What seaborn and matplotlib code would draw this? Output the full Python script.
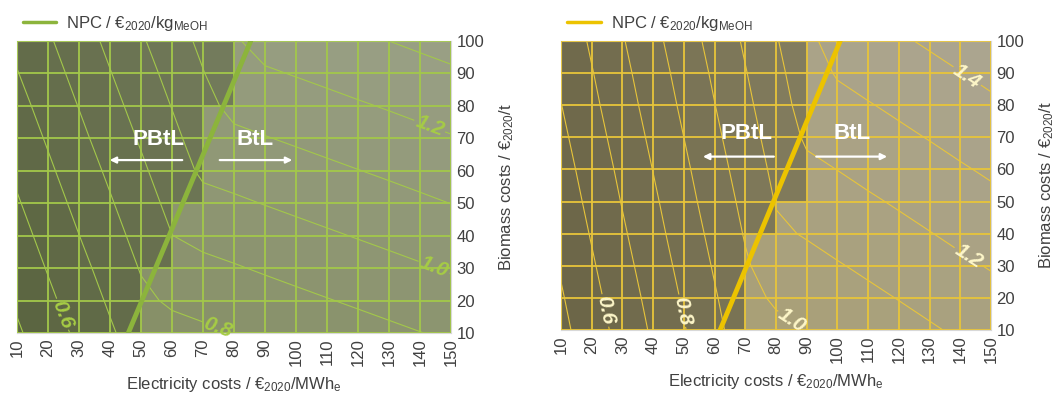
import numpy as np
import matplotlib
matplotlib.use("Agg")
import matplotlib.pyplot as plt
from matplotlib.lines import Line2D
from matplotlib.colors import to_rgb
import seaborn as sns

electricity_costs = [10, 20, 30, 40, 50, 60, 70, 80, 90, 100, 110, 120, 130, 140, 150]
biomass_costs = [10, 20, 30, 40, 50, 60, 70, 80, 90, 100]

# net production costs (€2020/kg MeOH), rows = biomass cost, columns = electricity cost
npc_green = [
    [0.487, 0.553, 0.620, 0.687, 0.752, 0.768, 0.784, 0.800, 0.817, 0.833, 0.849, 0.866, 0.882, 0.898, 0.915],
    [0.513, 0.580, 0.646, 0.713, 0.780, 0.814, 0.831, 0.847, 0.863, 0.880, 0.896, 0.912, 0.928, 0.945, 0.961],
    [0.539, 0.606, 0.672, 0.739, 0.806, 0.861, 0.877, 0.893, 0.910, 0.926, 0.942, 0.959, 0.975, 0.991, 1.008],
    [0.565, 0.632, 0.699, 0.765, 0.832, 0.899, 0.924, 0.940, 0.956, 0.973, 0.989, 1.005, 1.021, 1.038, 1.054],
    [0.591, 0.658, 0.725, 0.791, 0.858, 0.925, 0.970, 0.986, 1.003, 1.019, 1.035, 1.052, 1.068, 1.084, 1.101],
    [0.617, 0.684, 0.751, 0.817, 0.884, 0.951, 1.017, 1.033, 1.049, 1.066, 1.082, 1.098, 1.114, 1.131, 1.147],
    [0.643, 0.710, 0.777, 0.844, 0.910, 0.977, 1.044, 1.079, 1.096, 1.112, 1.128, 1.145, 1.161, 1.177, 1.194],
    [0.669, 0.736, 0.803, 0.870, 0.936, 1.003, 1.070, 1.126, 1.142, 1.159, 1.175, 1.191, 1.207, 1.224, 1.240],
    [0.696, 0.762, 0.829, 0.896, 0.962, 1.029, 1.096, 1.163, 1.189, 1.205, 1.221, 1.238, 1.254, 1.270, 1.287],
    [0.722, 0.788, 0.855, 0.922, 0.989, 1.055, 1.122, 1.189, 1.235, 1.252, 1.268, 1.284, 1.300, 1.317, 1.333],
]
npc_yellow = [
    [0.474, 0.554, 0.634, 0.714, 0.794, 0.874, 0.954, 0.978, 1.000, 1.023, 1.045, 1.068, 1.090, 1.113, 1.135],
    [0.491, 0.571, 0.651, 0.731, 0.811, 0.891, 0.971, 1.013, 1.036, 1.058, 1.081, 1.103, 1.126, 1.148, 1.171],
    [0.509, 0.589, 0.669, 0.749, 0.829, 0.909, 0.989, 1.049, 1.071, 1.094, 1.116, 1.139, 1.161, 1.184, 1.206],
    [0.527, 0.607, 0.687, 0.767, 0.847, 0.927, 1.007, 1.085, 1.107, 1.130, 1.152, 1.175, 1.197, 1.220, 1.242],
    [0.544, 0.625, 0.705, 0.784, 0.865, 0.945, 1.024, 1.105, 1.143, 1.165, 1.188, 1.210, 1.233, 1.255, 1.278],
    [0.562, 0.642, 0.722, 0.802, 0.882, 0.962, 1.042, 1.122, 1.179, 1.201, 1.224, 1.246, 1.268, 1.291, 1.313],
    [0.580, 0.660, 0.740, 0.820, 0.900, 0.980, 1.060, 1.140, 1.214, 1.237, 1.259, 1.282, 1.304, 1.327, 1.349],
    [0.598, 0.678, 0.758, 0.838, 0.918, 0.998, 1.078, 1.158, 1.238, 1.272, 1.295, 1.317, 1.340, 1.362, 1.385],
    [0.615, 0.695, 0.775, 0.855, 0.935, 1.015, 1.095, 1.175, 1.255, 1.308, 1.331, 1.353, 1.376, 1.398, 1.421],
    [0.633, 0.713, 0.793, 0.873, 0.953, 1.033, 1.113, 1.193, 1.273, 1.344, 1.366, 1.389, 1.411, 1.434, 1.456],
]

# electricity cost up to which the PBtL route is cheaper, per biomass band
pbtl_limit_green = [50, 50, 60, 60, 70, 70, 70, 80, 80]
pbtl_limit_yellow = [70, 70, 70, 80, 90, 90, 90, 90, 90]

# PBtL / BtL break-even line
boundary_bio = [10, 100]
boundary_elec_green = [45.9, 85.4]
boundary_elec_yellow = [61.8, 100.9]

labelled_green = [0.6, 0.8, 1.0, 1.2]
plain_green = [0.5, 0.7, 0.9, 1.1, 1.3]
labelled_yellow = [0.6, 0.8, 1.0, 1.2, 1.4]
plain_yellow = [0.5, 0.7, 0.9, 1.1, 1.3, 1.5]

sns.set_style("white")
plt.rcParams["font.family"] = ["Liberation Sans", "DejaVu Sans"]
plt.rcParams["mathtext.fontset"] = "custom"
plt.rcParams["mathtext.rm"] = "Liberation Sans"
plt.rcParams["mathtext.it"] = "Liberation Sans:italic"

panels = [
    dict(npc=npc_green, limit=pbtl_limit_green, bound=boundary_elec_green,
         labelled=labelled_green, plain=plain_green,
         line="#a3c84a", thick="#8cb43c", label="#a6cc45",
         p_lo="#59633f", p_hi="#7b8264", b_lo="#7d8858", b_hi="#9aa086",
         pos=[17/1059, 1-333/401, 434/1059, 292/401],
         manual=[(28, 17), (76, 15), (146, 34), (144, 76)],
         texts=[(55.5, 69.5), (86.8, 69.5)], arrows=[(64.2, 39, 63.3), (74.5, 99.7, 63.3)]),
    dict(npc=npc_yellow, limit=pbtl_limit_yellow, bound=boundary_elec_yellow,
         labelled=labelled_yellow, plain=plain_yellow,
         line="#e8c53a", thick="#ecc300", label="#fdf6c8",
         p_lo="#6a6446", p_hi="#8a8465", b_lo="#a69a5c", b_hi="#aba591",
         pos=[561/1059, 1-330/401, 430/1059, 289/401],
         manual=[(26.5, 16.5), (52, 16.5), (88, 17), (145.4, 37), (145.4, 93.6)],
         texts=[(70.5, 71.3), (104.7, 71.3)], arrows=[(80.2, 55.3, 64), (92.2, 117.1, 64)]),
]

fig = plt.figure(figsize=(10.59, 4.01), dpi=100)
ex = np.array(electricity_costs)
by = np.array(biomass_costs)
for st in panels:
    ax = fig.add_axes(st["pos"])
    z = np.array(st["npc"])

    # cell shading: route colour, lightened with the mean cost of the cell
    cell = (z[:-1, :-1] + z[1:, :-1] + z[:-1, 1:] + z[1:, 1:]) / 4
    centers = (ex[:-1] + ex[1:]) / 2
    lo, hi = z.min(), z.max()
    rgb = np.zeros(cell.shape + (3,))
    for r in range(cell.shape[0]):
        for c in range(cell.shape[1]):
            t = (cell[r, c] - lo) / (hi - lo)
            if centers[c] < st["limit"][r]:
                a, b = np.array(to_rgb(st["p_lo"])), np.array(to_rgb(st["p_hi"]))
            else:
                a, b = np.array(to_rgb(st["b_lo"])), np.array(to_rgb(st["b_hi"]))
            rgb[r, c] = a + (b - a) * t
    ax.pcolormesh(ex, by, rgb, shading="flat", zorder=0)

    ax.set_xlim(10, 150)
    ax.set_ylim(10, 100)
    ax.set_xticks(electricity_costs)
    ax.set_yticks(biomass_costs)
    ax.grid(True, color=st["line"], lw=1.3, zorder=1)
    ax.set_axisbelow(False)

    ax.contour(ex, by, z, levels=st["plain"], colors=st["line"], linewidths=0.8, zorder=2)
    cs = ax.contour(ex, by, z, levels=st["labelled"], colors=st["line"], linewidths=0.8, zorder=2)
    lbls = ax.clabel(cs, manual=st["manual"], inline=True, inline_spacing=2, fmt="%.1f",
                     fontsize=15, colors=st["label"])
    for t in lbls:
        t.set_fontstyle("italic")
        t.set_fontweight("bold")
        t.set_clip_on(False)

    sns.lineplot(x=st["bound"], y=boundary_bio, ax=ax, color=st["thick"], lw=3.5,
                 sort=False, estimator=None, legend=False, zorder=3)

    ax.text(*st["texts"][0], "PBtL", color="white", fontsize=16, fontweight="bold",
            ha="center", va="center", zorder=4)
    ax.text(*st["texts"][1], "BtL", color="white", fontsize=16, fontweight="bold",
            ha="center", va="center", zorder=4)
    for x0, x1, y in st["arrows"]:
        ax.annotate("", xy=(x1, y), xytext=(x0, y),
                    arrowprops=dict(arrowstyle="-|>", color="white", lw=1.6, mutation_scale=9),
                    zorder=4)

    ax.yaxis.tick_right()
    ax.yaxis.set_label_position("right")
    ax.tick_params(axis="x", labelrotation=90, length=0, labelsize=12, labelcolor="#404040", pad=4)
    ax.tick_params(axis="y", length=0, labelsize=12, labelcolor="#404040", pad=4)
    ax.set_xlabel("Electricity costs / €$_{2020}$/MWh$_{\\mathrm{e}}$", fontsize=12,
                  color="#404040", labelpad=6)
    ax.set_ylabel("Biomass costs / €$_{2020}$/t", fontsize=12, color="#404040", labelpad=9)
    for s in ax.spines.values():
        s.set_color("#d8d8d8")
        s.set_linewidth(0.8)
    ax.legend(handles=[Line2D([], [], color=st["thick"], lw=2.5)],
              labels=["NPC / €$_{2020}$/kg$_{\\mathrm{MeOH}}$"], loc="lower left",
              bbox_to_anchor=(-0.005, 1.0), frameon=False, fontsize=12, handlelength=2.0,
              handletextpad=0.6, borderaxespad=0.1, labelcolor="#404040")

fig.savefig("out.png", dpi=100)
